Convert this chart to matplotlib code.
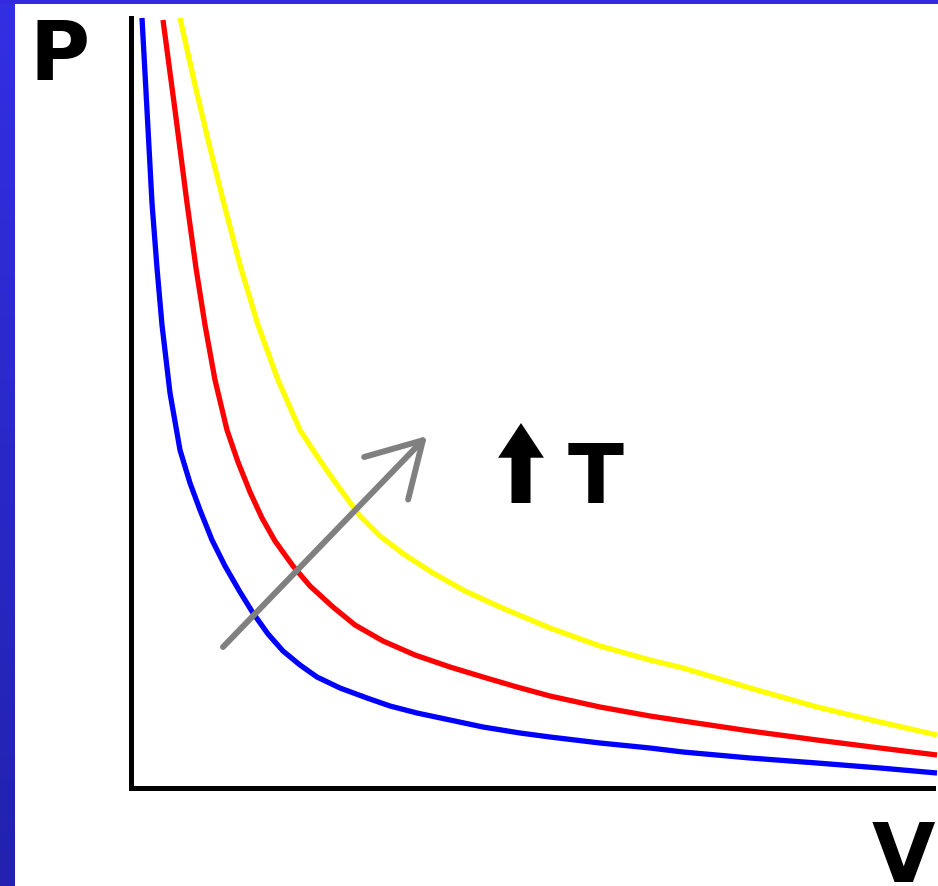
import numpy as np
import matplotlib
matplotlib.use("Agg")
import matplotlib.pyplot as plt
from matplotlib.colors import LinearSegmentedColormap

# ---- data (V, P in arbitrary units) ----
blue_V = [11, 16, 21, 26, 31, 39, 49, 59, 69, 81, 94, 109, 122, 137, 152, 169,
          186, 209, 236, 259, 286, 319, 352, 389, 419, 469, 519, 552, 619, 686,
          749, 806]
blue_P = [770, 678, 585, 520, 463, 395, 338, 305, 278, 248, 222, 196, 175, 154,
          137, 123, 111, 100, 90, 82, 75, 68, 61, 55, 51, 45, 40, 36, 30, 25,
          20, 15]

red_V = [32, 44, 56, 65, 74, 84, 96, 107, 119, 131, 144, 162, 179, 202, 224,
         252, 284, 319, 352, 386, 419, 469, 519, 552, 619, 686, 749, 806]
red_P = [768, 678, 585, 520, 463, 408, 358, 326, 296, 270, 247, 222, 202, 181,
         163, 147, 133, 121, 111, 101, 92, 81, 72, 67, 57, 48, 40, 33]

yellow_V = [49, 64, 79, 92, 109, 127, 147, 169, 184, 199, 212, 229, 249, 274,
            302, 334, 369, 419, 469, 519, 552, 619, 686, 749, 806]
yellow_P = [770, 703, 640, 588, 523, 463, 408, 358, 335, 313, 295, 272, 252,
            233, 215, 197, 181, 160, 142, 128, 120, 100, 81, 66, 53]

series = [(blue_V, blue_P, "#0000FF"),
          (red_V, red_P, "#FF0000"),
          (yellow_V, yellow_P, "#FFFF00")]

W, H = 938, 886
fig = plt.figure(figsize=(W / 100, H / 100), dpi=100, facecolor="white")

# blue frame strips
grad = np.linspace(0, 1, 256).reshape(-1, 1)
cmap = LinearSegmentedColormap.from_list("g", ["#3230E2", "#2222AE"])
sax = fig.add_axes([0, 0, 14 / W, 1])
sax.imshow(grad, aspect="auto", cmap=cmap, extent=[0, 1, 0, 1])
sax.set_axis_off()
tax = fig.add_axes([0, 1 - 4 / H, 1, 4 / H])
tax.set_facecolor("#3428E0")
tax.set_xticks([]); tax.set_yticks([])
for s in tax.spines.values():
    s.set_visible(False)

# main axes
ax = fig.add_axes([131 / W, (H - 788) / H, (933 - 131) / W, (788 - 18) / H])
ax.set_xlim(0, 802)
ax.set_ylim(0, 770)
ax.set_facecolor("none")
ax.set_xticks([]); ax.set_yticks([])
for side in ("top", "right"):
    ax.spines[side].set_visible(False)
for side in ("left", "bottom"):
    ax.spines[side].set_linewidth(3.6)
    ax.spines[side].set_color("black")

for v, p, c in series:
    ax.plot(v, p, color=c, lw=3.8, clip_on=False, solid_joinstyle="round",
            solid_capstyle="butt")

# gray temperature arrow
ax.annotate("", xy=(296, 352), xytext=(92, 141),
            arrowprops=dict(arrowstyle="->,head_length=1.9,head_width=1.1",
                            color="#808080", lw=4.3, shrinkA=0, shrinkB=0,
                            mutation_scale=20, capstyle="round",
                            joinstyle="round"))

# black up arrow
ax.annotate("", xy=(390, 365), xytext=(390, 285),
            arrowprops=dict(arrowstyle="simple,head_length=2.5,head_width=3.3,tail_width=1.37",
                            color="black", shrinkA=0, shrinkB=0,
                            mutation_scale=10, lw=0))

fs = 59
ax.text(465, 285, "T", fontsize=fs, fontweight="bold", ha="center",
        va="baseline", color="black")
ax.text(-71, 708, "P", fontsize=fs, fontweight="bold", ha="center",
        va="baseline", color="black", clip_on=False)
ax.text(772, -94, "V", fontsize=fs, fontweight="bold", ha="center",
        va="baseline", color="black", clip_on=False)

fig.savefig("out.png", dpi=100, facecolor="white")
